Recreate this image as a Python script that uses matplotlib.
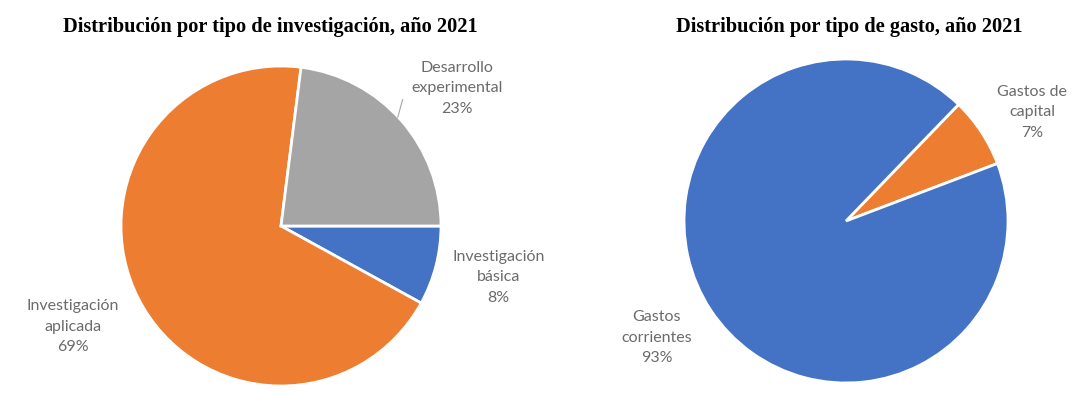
import matplotlib
matplotlib.use("Agg")
import matplotlib.pyplot as plt

# ---- data ----
inv_labels = ["Investigación\nbásica", "Investigación\naplicada", "Desarrollo\nexperimental"]
inv_values = [8, 69, 23]
inv_colors = ["#4472C4", "#ED7D31", "#A5A5A5"]

gasto_labels = ["Gastos de\ncapital", "Gastos\ncorrientes"]
gasto_values = [7, 93]
gasto_colors = ["#ED7D31", "#4472C4"]

title_left = "Distribución por tipo de investigación, año 2021"
title_right = "Distribución por tipo de gasto, año 2021"

W, H = 1071, 394
fig = plt.figure(figsize=(W / 100, H / 100), dpi=100)
fig.patch.set_facecolor("white")

label_font = dict(family=["Lato", "DejaVu Sans"], fontsize=11.5, color="#6b6b6b",
                  ha="center", va="center", linespacing=1.6)


def make_ax(cx, cy, r):
    ax = fig.add_axes([(cx - r) / W, (H - cy - r) / H, 2 * r / W, 2 * r / H])
    ax.set_xlim(-1, 1)
    ax.set_ylim(-1, 1)
    ax.axis("off")
    return ax


# left pie
axL = make_ax(281, 226, 160)
axL.pie(inv_values, colors=inv_colors, startangle=0, counterclock=False, radius=1,
        wedgeprops=dict(edgecolor="white", linewidth=2))
axL.set_xlim(-1, 1)
axL.set_ylim(-1, 1)
label_pos_L = [(1.36, -0.32), (-1.30, -0.63), (1.10, 0.86)]
for lab, v, (x, y) in zip(inv_labels, inv_values, label_pos_L):
    axL.text(x, y, f"{lab}\n{v}%", clip_on=False, **label_font)
axL.plot([0.73, 0.76], [0.68, 0.79], color="#a6a6a6", lw=0.8, clip_on=False)

# right pie
axR = make_ax(846, 221, 162)
axR.pie(gasto_values, colors=gasto_colors, startangle=46, counterclock=False, radius=1,
        wedgeprops=dict(edgecolor="white", linewidth=2))
axR.set_xlim(-1, 1)
axR.set_ylim(-1, 1)
label_pos_R = [(1.15, 0.67), (-1.17, -0.72)]
for lab, v, (x, y) in zip(gasto_labels, gasto_values, label_pos_R):
    axR.text(x, y, f"{lab}\n{v}%", clip_on=False, **label_font)

# titles
title_font = dict(family=["Liberation Serif", "DejaVu Serif"], fontsize=14.7,
                  fontweight="bold", ha="center", va="baseline", color="black")
fig.text(270 / W, 1 - 32 / H, title_left, **title_font)
fig.text(849 / W, 1 - 32 / H, title_right, **title_font)

fig.savefig("out.png", dpi=100, facecolor="white")
